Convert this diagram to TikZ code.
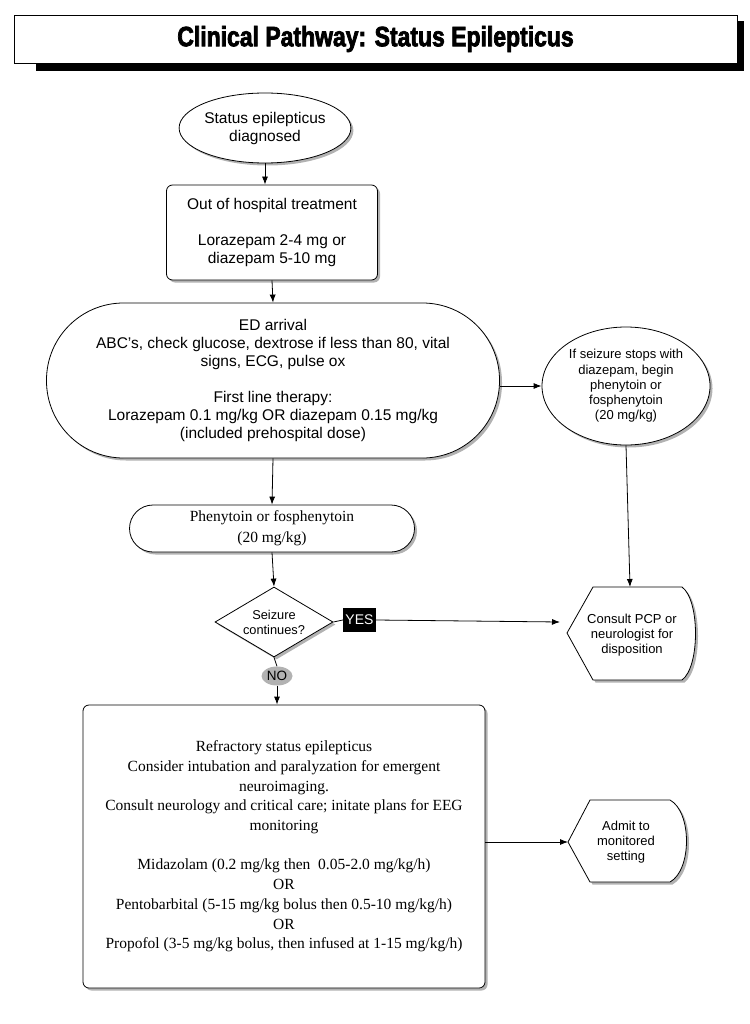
\documentclass[tikz,border=0pt]{standalone}
\usepackage{fontspec}
\setmainfont{Liberation Serif}
\setsansfont{Liberation Sans}
\newfontfamily\titlefont[FakeStretch=0.82,FakeBold=2.6]{Liberation Sans Bold}
\usetikzlibrary{shapes.geometric,arrows.meta,shadows}
\tikzset{
  line/.style={draw=black, line width=0.8pt},
  arr/.style={line, -{Latex[length=8pt,width=6pt]}},
  shad/.style={drop shadow={shadow xshift=2.5pt, shadow yshift=-2.5pt, opacity=0.3, fill=black}},
  sanstxt/.style={font=\sffamily\fontsize{15.5}{18}\selectfont, align=center},
  smalltxt/.style={font=\sffamily\fontsize{13}{15.25}\selectfont, align=center},
  seriftxt/.style={font=\rmfamily\fontsize{15.5}{19.7}\selectfont, align=center},
  shapebox/.style={draw=black, line width=0.8pt, fill=white, shad, inner sep=0pt},
}
\begin{document}
\begin{tikzpicture}[x=1pt,y=-1pt]
\useasboundingbox (0,0) rectangle (749,1024);
% title
\fill[black] (36,21) rectangle (744,71);
\draw[line, fill=white] (14,15) rectangle (737,63);
\node[font=\titlefont\fontsize{28}{30}\selectfont] (title) at (375.5,39) {Clinical Pathway: Status Epilepticus};
% nodes
\node[shapebox, ellipse, minimum width=170pt, minimum height=70pt, sanstxt] (diag) at (265,128) {Status epilepticus\\diagnosed};
\node[shapebox, rectangle, rounded corners=6pt, minimum width=211pt, minimum height=95pt, sanstxt] (oht) at (272,232.5) {Out of hospital treatment\\[18pt]Lorazepam 2-4 mg or\\diazepam 5-10 mg};
\node[shapebox, rectangle, rounded corners=77pt, minimum width=453pt, minimum height=155pt, sanstxt] (ed) at (273,380.5) {ED arrival\\ABC's, check glucose, dextrose if less than 80, vital\\signs, ECG, pulse ox\\[18pt]First line therapy:\\Lorazepam 0.1 mg/kg OR diazepam 0.15 mg/kg\\(included prehospital dose)};
\node[shapebox, ellipse, minimum width=168pt, minimum height=118pt, smalltxt] (ifstop) at (626,386) {If seizure stops with\\diazepam, begin\\phenytoin or\\fosphenytoin\\(20 mg/kg)};
\node[shapebox, rectangle, rounded corners=23.5pt, minimum width=285pt, minimum height=47pt, font=\rmfamily\fontsize{15.5}{21}\selectfont, align=center] (phen) at (272,528.5) {Phenytoin or fosphenytoin\\(20 mg/kg)};
\node[shapebox, diamond, aspect=1.7, minimum width=118pt, minimum height=70pt, font=\sffamily\fontsize{12.8}{15}\selectfont, align=center] (dec) at (274,622) {Seizure\\continues?};
\node[fill=black, text=white, font=\sffamily\fontsize{14}{16}\selectfont, minimum width=33pt, minimum height=24pt, inner sep=0pt] (yes) at (359.5,620) {YES};
\node[ellipse, fill=black!30, font=\sffamily\fontsize{13.5}{15}\selectfont, minimum width=31pt, minimum height=19pt, inner sep=0pt] (no) at (277,676) {NO};
\node[shapebox, rectangle, rounded corners=6pt, minimum width=402pt, minimum height=283pt, seriftxt] (big) at (284,846.5) {Refractory status epilepticus\\Consider intubation and paralyzation for emergent\\neuroimaging.\\Consult neurology and critical care; initate plans for EEG\\monitoring\\[19.7pt]Midazolam (0.2 mg/kg then\ \ 0.05-2.0 mg/kg/h)\\OR\\Pentobarbital (5-15 mg/kg bolus then 0.5-10 mg/kg/h)\\OR\\Propofol (3-5 mg/kg bolus, then infused at 1-15 mg/kg/h)};
% display shapes
\draw[line, fill=white, shad] (567,633) -- (593,587) -- (682,587) .. controls (700,600) and (700,667) .. (682,680) -- (593,680) -- cycle;
\node[smalltxt] (consult) at (632,635) {Consult PCP or\\neurologist for\\disposition};
\coordinate (ctop) at (630,587);
\coordinate (cin) at (560,622);
\draw[line, fill=white, shad] (568,842) -- (590,800) -- (670,800) .. controls (692,812) and (692,870) .. (670,882) -- (590,882) -- cycle;
\node[smalltxt] (admit) at (626,842) {Admit to\\monitored\\setting};
\coordinate (atip) at (568,842);
% connectors
\draw[arr] (diag.south) -- (diag.south |- oht.north);
\draw[arr] (oht.south) -- (ed.north);
\draw[arr] (ifstop.west -| ed.east) -- (ifstop.west);
\draw[arr] (ed.south) -- (phen.north);
\draw[arr] (phen.south) -- (dec.north);
\draw[line] (dec.east) -- (yes.west);
\draw[arr] (yes.east) -- (cin);
\draw[line] (dec.south) -- (no.north);
\draw[arr] (no.south) -- (no.south |- big.north);
\draw[arr] (ifstop.south) -- (ctop);
\draw[arr] (atip -| big.east) -- (atip);
\end{tikzpicture}
\end{document}
